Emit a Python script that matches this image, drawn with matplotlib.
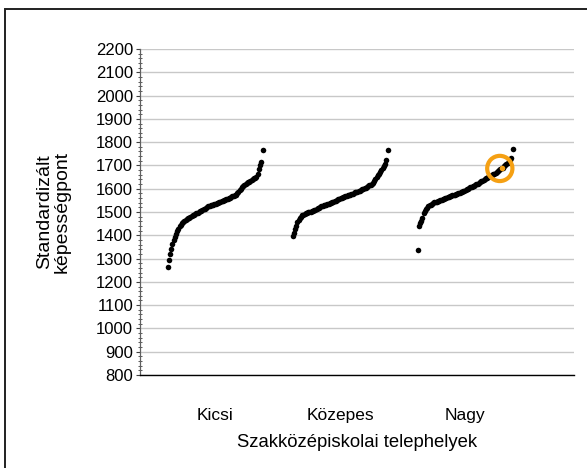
import matplotlib
matplotlib.use("Agg")
import matplotlib.pyplot as plt
from matplotlib.patches import Rectangle
from matplotlib.ticker import MultipleLocator
import numpy as np

plt.rcParams['font.family'] = ['Liberation Sans', 'DejaVu Sans']

categories = ['Kicsi', 'Közepes', 'Nagy']

# sorted standardised scores per school site, one list per size group
kicsi = [1265, 1295, 1320, 1342, 1362, 1378, 1392, 1405, 1418, 1428,
         1438, 1446, 1453, 1459, 1463, 1467, 1470, 1473, 1476, 1479,
         1482, 1485, 1488, 1491, 1494, 1497, 1500, 1503, 1506, 1509,
         1512, 1515, 1518, 1521, 1524, 1526, 1528, 1530, 1532, 1534,
         1536, 1538, 1540, 1542, 1544, 1546, 1548, 1550, 1552, 1554,
         1556, 1559, 1561, 1564, 1567, 1569, 1571, 1574, 1580, 1587,
         1594, 1600, 1606, 1611, 1615, 1619, 1623, 1627, 1630, 1634,
         1637, 1640, 1644, 1648, 1652, 1665, 1684, 1700, 1715, 1768]

kozepes = [1398, 1410, 1425, 1442, 1455, 1466, 1474, 1480, 1485, 1489,
           1492, 1494, 1496, 1498, 1500, 1502, 1504, 1506, 1508, 1510,
           1513, 1516, 1518, 1521, 1524, 1526, 1528, 1530, 1532, 1534,
           1536, 1538, 1540, 1543, 1545, 1547, 1549, 1551, 1554, 1556,
           1558, 1561, 1563, 1565, 1567, 1569, 1571, 1573, 1575, 1577,
           1579, 1581, 1584, 1586, 1588, 1590, 1592, 1594, 1597, 1599,
           1602, 1605, 1608, 1611, 1614, 1617, 1621, 1626, 1633, 1641,
           1650, 1657, 1664, 1672, 1679, 1687, 1696, 1705, 1722, 1765]

nagy = [1335, 1440, 1452, 1463, 1474, 1494, 1505, 1513, 1519, 1524,
        1528, 1532, 1535, 1538, 1541, 1543, 1545, 1547, 1549, 1551,
        1553, 1555, 1557, 1559, 1561, 1563, 1565, 1567, 1569, 1571,
        1573, 1575, 1577, 1579, 1581, 1583, 1585, 1587, 1589, 1591,
        1594, 1597, 1600, 1603, 1606, 1608, 1610, 1613, 1616, 1619,
        1622, 1625, 1628, 1631, 1635, 1638, 1641, 1644, 1647, 1650,
        1653, 1656, 1659, 1662, 1665, 1669, 1672, 1675, 1679, 1683,
        1687, 1691, 1696, 1701, 1706, 1712, 1718, 1725, 1732, 1772]

groups = [kicsi, kozepes, nagy]

# highlighted site: group index and rank inside the group
highlight_group = 2
highlight_rank = 70

orange = '#F5A013'

fig = plt.figure(figsize=(5.87, 4.68), dpi=100)
ax = fig.add_axes([140 / 587, 1 - 375 / 468, 434 / 587, 326 / 468])

spread = 0.76
for gi, vals in enumerate(groups):
    n = len(vals)
    xs = (gi + 1) + (np.arange(n) / (n - 1) - 0.5) * spread
    ax.scatter(xs, vals, s=16, color='black', linewidths=0, zorder=3)
    if gi == highlight_group:
        hx = xs[highlight_rank]
        hy = vals[highlight_rank]
        ax.scatter([hx], [hy], s=16, color=orange, linewidths=0, zorder=4)
        ax.scatter([hx - 0.015], [hy], s=330, facecolors='none',
                   edgecolors=orange, linewidths=3.0, zorder=5)

ax.set_ylim(800, 2200)
ax.set_xlim(0.4, 0.4 + 434 / 125)
ax.yaxis.set_major_locator(MultipleLocator(100))
ax.yaxis.set_minor_locator(MultipleLocator(20))
ax.grid(axis='y', color='#c8c8c8', linewidth=1.0, zorder=0)
ax.set_axisbelow(True)

ax.set_xticks([1, 2, 3])
ax.set_xticklabels(categories)
ax.tick_params(axis='x', length=0, pad=24, labelsize=12.5)
ax.tick_params(axis='y', which='major', direction='out', length=3,
               width=0.8, labelsize=12, pad=2, color='#404040')
ax.tick_params(axis='y', which='minor', direction='inout', length=3,
               width=0.6, color='#404040')

for side in ['top', 'right']:
    ax.spines[side].set_visible(False)
ax.spines['left'].set_color('#606060')
ax.spines['left'].set_linewidth(0.9)
ax.spines['bottom'].set_color('black')
ax.spines['bottom'].set_linewidth(1.0)

ax.set_xlabel('Szakközépiskolai telephelyek', fontsize=13.3, labelpad=8)
ax.set_ylabel('Standardizált\nképességpont', fontsize=14, labelpad=18,
              linespacing=1.05)

# outer frame, clipped by the figure on the right and bottom
frame_top = 1 - 9 / 468
fig.patches.append(Rectangle((5 / 587, -0.2), 1.2, frame_top + 0.2,
                             transform=fig.transFigure, fill=False,
                             edgecolor='#202020', linewidth=1.4))

fig.savefig('out.png', dpi=100)
